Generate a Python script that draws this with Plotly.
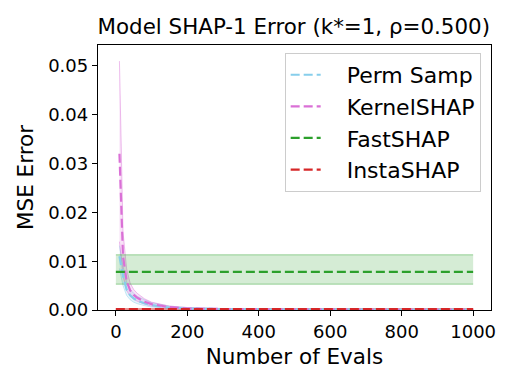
import plotly.graph_objects as go

# evaluation budgets
evals = [10, 20, 30, 40, 50, 60, 80, 100, 150, 200, 300, 400, 500, 600, 700, 800, 900, 1000]

perm_mean = [0.0110, 0.0070, 0.0042, 0.0030, 0.0024, 0.0019, 0.0014, 0.0010, 0.0005, 0.0003,
             0.00018, 0.00014, 0.00011, 0.0001, 0.00009, 0.00008, 0.00007, 0.00007]
perm_lo = [0.0085, 0.0050, 0.0030, 0.0021, 0.0016, 0.0013, 0.0009, 0.0006, 0.0003, 0.0002,
           0.0001, 0.00008, 0.00007, 0.00006, 0.00005, 0.00005, 0.00004, 0.00004]
perm_hi = [0.0132, 0.0090, 0.0058, 0.0042, 0.0034, 0.0028, 0.0021, 0.0015, 0.0008, 0.0005,
           0.0003, 0.0002, 0.00016, 0.00014, 0.00013, 0.00011, 0.0001, 0.0001]

kern_mean = [0.0320, 0.0110, 0.0060, 0.0040, 0.0031, 0.0025, 0.0017, 0.0012, 0.0006, 0.0003,
             0.0002, 0.00014, 0.00012, 0.0001, 0.00009, 0.00008, 0.00007, 0.00007]
kern_lo = [0.0140, 0.0070, 0.0040, 0.0028, 0.0022, 0.0018, 0.0012, 0.0008, 0.0004, 0.0002,
           0.00012, 0.0001, 0.00008, 0.00007, 0.00006, 0.00005, 0.00005, 0.00004]
kern_hi = [0.0510, 0.0160, 0.0085, 0.0055, 0.0042, 0.0034, 0.0023, 0.0016, 0.0008, 0.0005,
           0.0003, 0.0002, 0.00016, 0.00014, 0.00012, 0.00011, 0.0001, 0.0001]

flat_x = [0, 1000]
fast_mean = [0.0078, 0.0078]
fast_lo = [0.0053, 0.0053]
fast_hi = [0.0113, 0.0113]
insta_mean = [0.0002, 0.0002]
insta_lo = [0.0001, 0.0001]
insta_hi = [0.0003, 0.0003]

series = [
    ("Perm Samp", evals, perm_mean, perm_lo, perm_hi, (135, 206, 235)),
    ("KernelSHAP", evals, kern_mean, kern_lo, kern_hi, (218, 112, 214)),
    ("FastSHAP", flat_x, fast_mean, fast_lo, fast_hi, (44, 160, 44)),
    ("InstaSHAP", flat_x, insta_mean, insta_lo, insta_hi, (214, 39, 40)),
]


def rgba(c, a):
    return f"rgba({c[0]},{c[1]},{c[2]},{a})"


fig = go.Figure()

for name, x, mean, lo, hi, c in series:
    fig.add_trace(go.Scatter(x=x, y=lo, mode="lines", showlegend=False,
                             line=dict(color=rgba(c, 0.45), width=1), hoverinfo="skip"))
    fig.add_trace(go.Scatter(x=x, y=hi, mode="lines", showlegend=False, fill="tonexty",
                             fillcolor=rgba(c, 0.2),
                             line=dict(color=rgba(c, 0.45), width=1), hoverinfo="skip"))

for name, x, mean, lo, hi, c in series:
    fig.add_trace(go.Scatter(x=x, y=mean, mode="lines", name="\u00a0\u00a0\u00a0" + name,
                             line=dict(color=rgba(c, 1), width=2.2, dash="9px,4px")))

# page body has an 8px margin, so margins are shifted to compensate
fig.update_layout(
    width=515, height=386,
    paper_bgcolor="white", plot_bgcolor="white",
    font=dict(family="DejaVu Sans", size=18, color="black"),
    title=dict(text="Model SHAP-1 Error (k*=1, ρ=0.500)", x=0.555, xanchor="center",
               y=0.951, yanchor="middle", font=dict(size=21.4)),
    margin=dict(l=90, r=32, t=37, b=84),
    showlegend=True,
    legend=dict(x=0.475, y=0.97, xanchor="left", yanchor="top", traceorder="normal",
                bgcolor="rgba(255,255,255,0.8)", bordercolor="#cccccc", borderwidth=1,
                font=dict(size=22)),
)

fig.update_xaxes(range=[-50, 1050], tickvals=[0, 200, 400, 600, 800, 1000],
                 showgrid=False, zeroline=False, showline=True, linecolor="black", linewidth=1.3,
                 mirror=True, ticks="outside", ticklen=5, tickcolor="black", automargin=False,
                 title=dict(text="Number of Evals", font=dict(size=21.5), standoff=8),
                 tickfont=dict(size=18))
fig.update_yaxes(range=[0, 0.0543], tickvals=[0, 0.01, 0.02, 0.03, 0.04, 0.05],
                 tickformat=".2f",
                 showgrid=False, zeroline=False, showline=True, linecolor="black", linewidth=1.3,
                 mirror=True, ticks="outside", ticklen=5, tickcolor="black", automargin=False,
                 title=dict(text="MSE Error", font=dict(size=21.5), standoff=8),
                 tickfont=dict(size=18))

fig.write_html("out.html")
